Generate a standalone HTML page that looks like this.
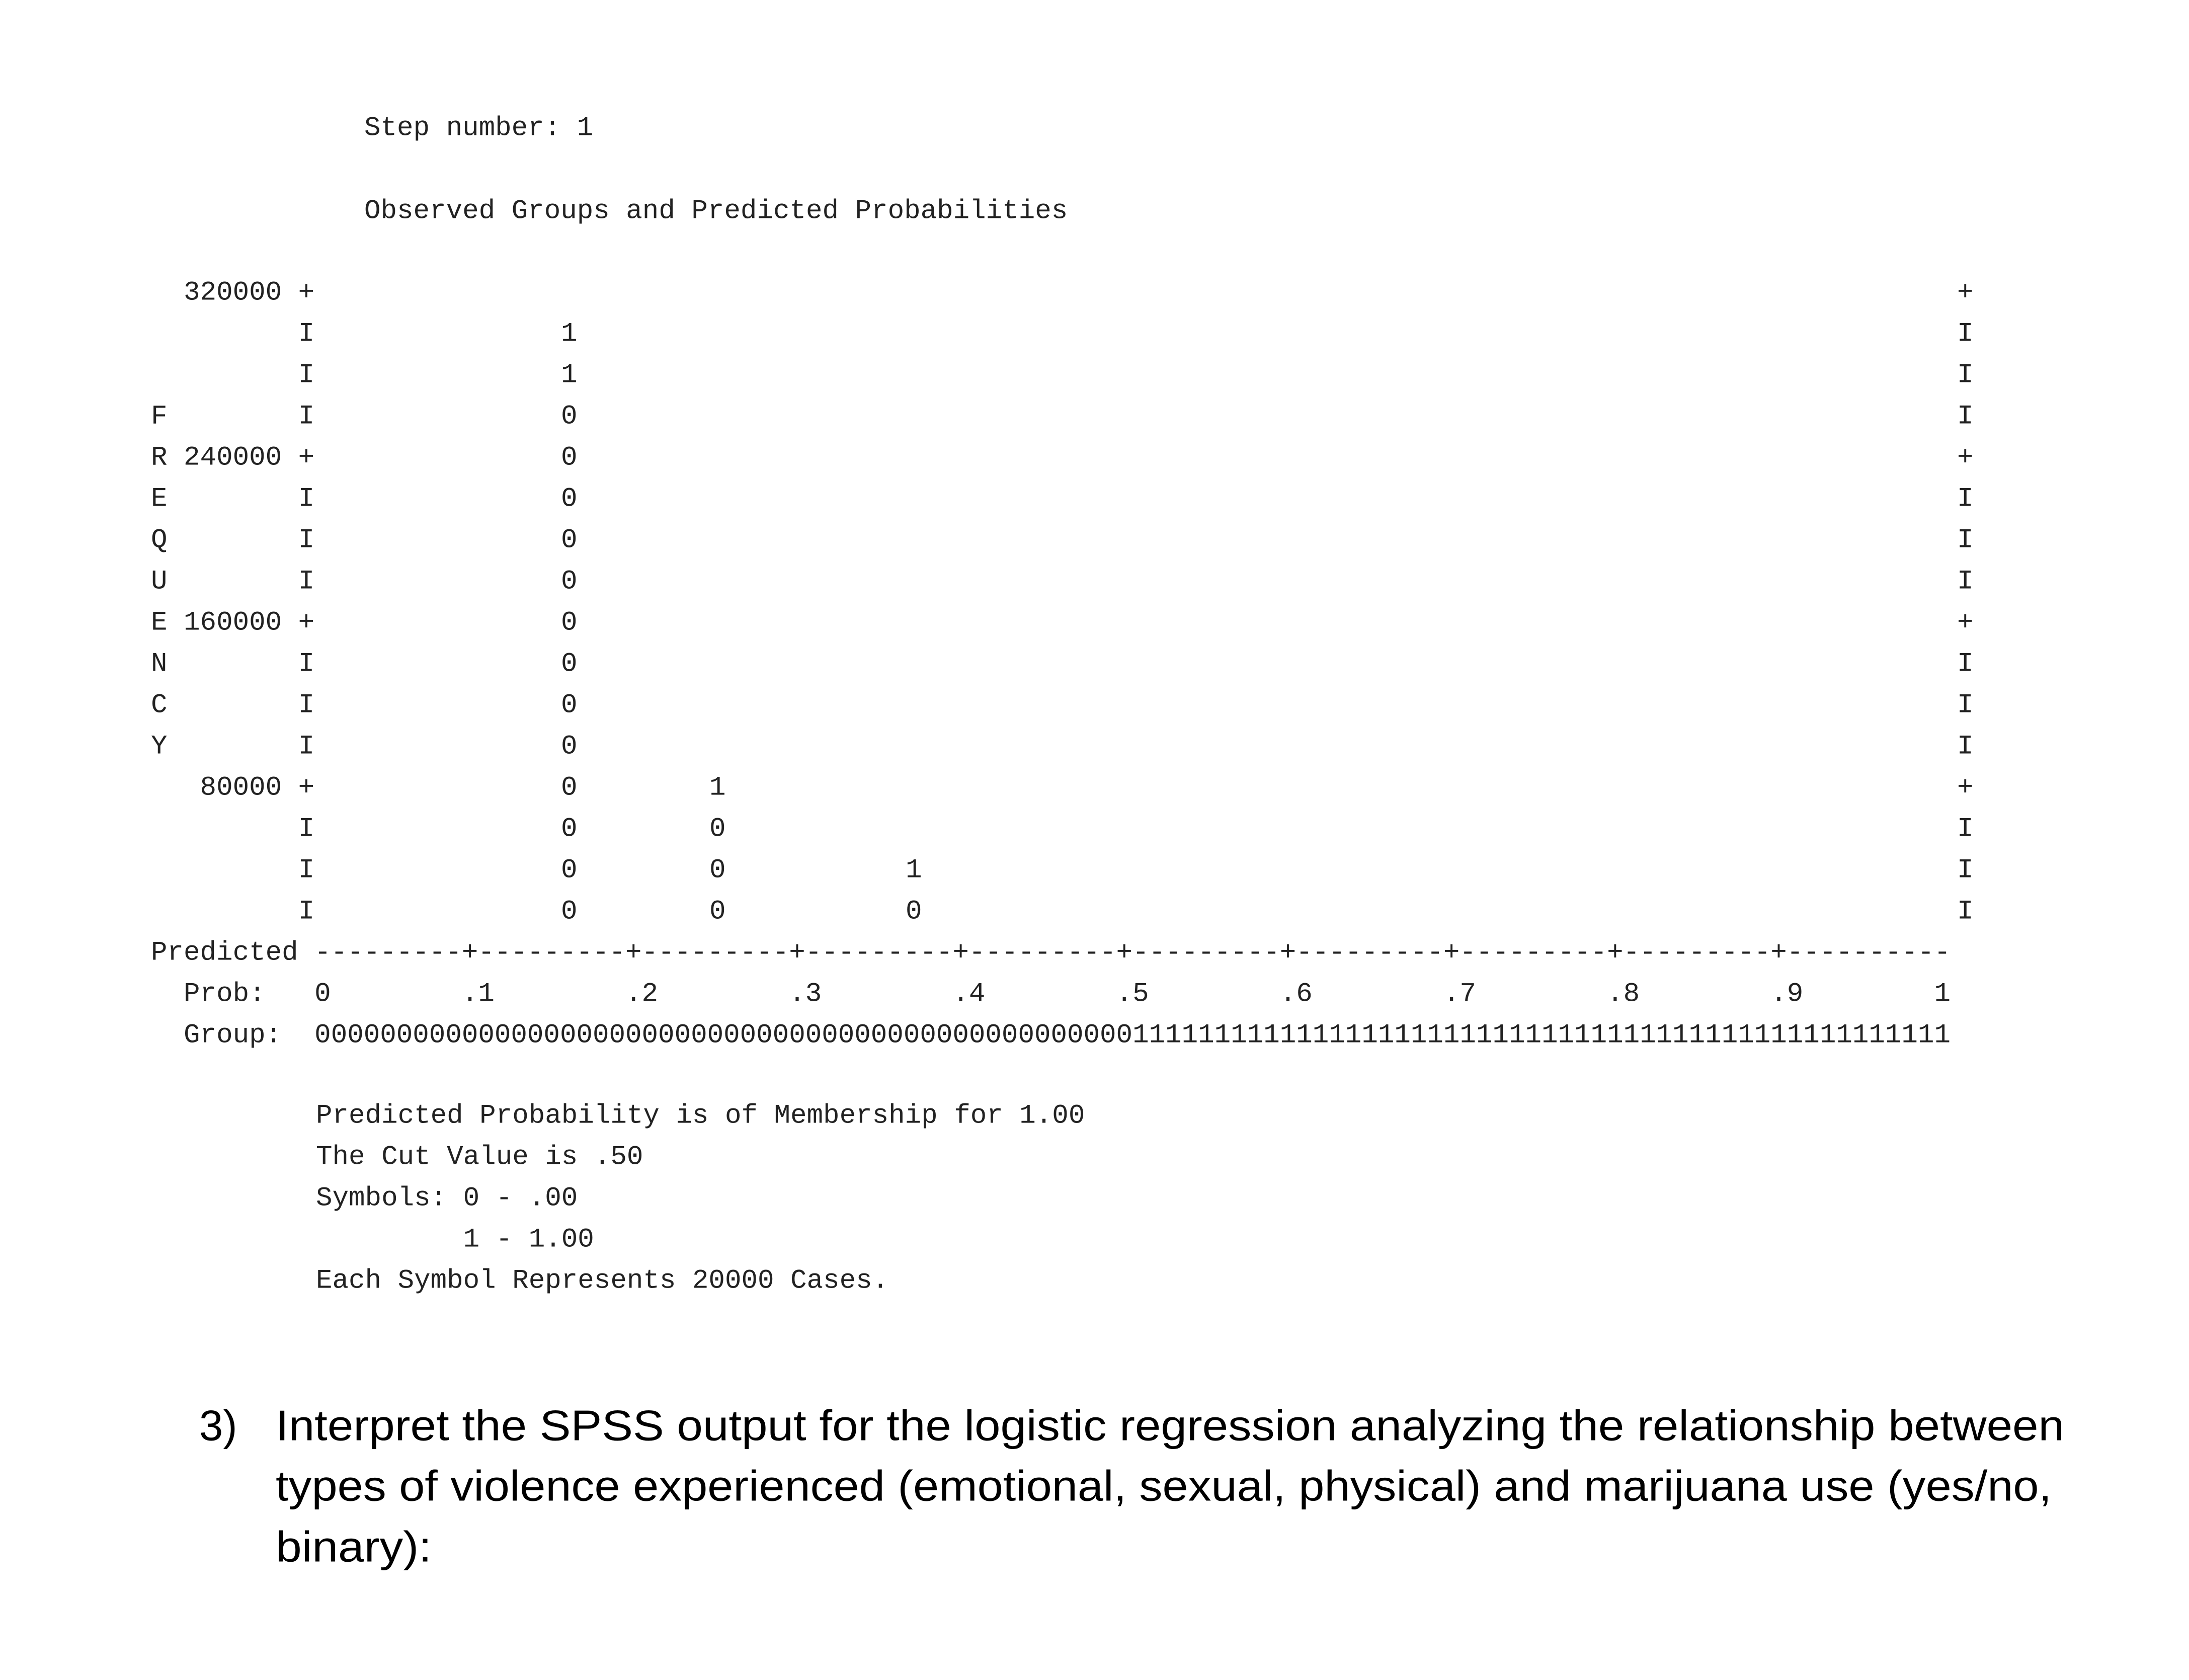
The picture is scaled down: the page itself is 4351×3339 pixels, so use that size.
<!DOCTYPE html>
<html><head><meta charset="utf-8"><style>
html,body{margin:0;padding:0;background:#fff;}
svg{display:block;}
.m text{font-family:"Liberation Mono",monospace;font-size:54.2px;fill:#222;white-space:pre;}
.q text{font-family:"Liberation Sans",sans-serif;font-size:85px;fill:#000;}
</style></head><body>
<svg width="4351" height="3339" viewBox="0 0 4351 3339" xmlns="http://www.w3.org/2000/svg">
<g class="m" dominant-baseline="central">
<text x="724" y="255">Step number: 1</text>
<text x="724" y="420">Observed Groups and Predicted Probabilities</text>

<text x="300" y="582" xml:space="preserve">  320000 +</text>
<text x="300" y="664" xml:space="preserve">         I</text>
<text x="300" y="746" xml:space="preserve">         I</text>
<text x="300" y="828" xml:space="preserve">F        I</text>
<text x="300" y="910" xml:space="preserve">R 240000 +</text>
<text x="300" y="992" xml:space="preserve">E        I</text>
<text x="300" y="1074" xml:space="preserve">Q        I</text>
<text x="300" y="1156" xml:space="preserve">U        I</text>
<text x="300" y="1238" xml:space="preserve">E 160000 +</text>
<text x="300" y="1320" xml:space="preserve">N        I</text>
<text x="300" y="1402" xml:space="preserve">C        I</text>
<text x="300" y="1484" xml:space="preserve">Y        I</text>
<text x="300" y="1566" xml:space="preserve">   80000 +</text>
<text x="300" y="1648" xml:space="preserve">         I</text>
<text x="300" y="1730" xml:space="preserve">         I</text>
<text x="300" y="1812" xml:space="preserve">         I</text>

<text x="3890" y="582">+</text>
<text x="3890" y="664">I</text>
<text x="3890" y="746">I</text>
<text x="3890" y="828">I</text>
<text x="3890" y="910">+</text>
<text x="3890" y="992">I</text>
<text x="3890" y="1074">I</text>
<text x="3890" y="1156">I</text>
<text x="3890" y="1238">+</text>
<text x="3890" y="1320">I</text>
<text x="3890" y="1402">I</text>
<text x="3890" y="1484">I</text>
<text x="3890" y="1566">+</text>
<text x="3890" y="1648">I</text>
<text x="3890" y="1730">I</text>
<text x="3890" y="1812">I</text>

<text x="1115" y="664">1</text>
<text x="1115" y="746">1</text>
<text x="1115" y="828">0</text>
<text x="1115" y="910">0</text>
<text x="1115" y="992">0</text>
<text x="1115" y="1074">0</text>
<text x="1115" y="1156">0</text>
<text x="1115" y="1238">0</text>
<text x="1115" y="1320">0</text>
<text x="1115" y="1402">0</text>
<text x="1115" y="1484">0</text>
<text x="1115" y="1566">0</text>
<text x="1115" y="1648">0</text>
<text x="1115" y="1730">0</text>
<text x="1115" y="1812">0</text>
<text x="1410" y="1566">1</text>
<text x="1410" y="1648">0</text>
<text x="1410" y="1730">0</text>
<text x="1410" y="1812">0</text>
<text x="1800" y="1730">1</text>
<text x="1800" y="1812">0</text>

<text x="300" y="1894" xml:space="preserve">Predicted ---------+---------+---------+---------+---------+---------+---------+---------+---------+----------</text>
<text x="300" y="1976" xml:space="preserve">  Prob:   0        .1        .2        .3        .4        .5        .6        .7        .8        .9        1</text>
<text x="300" y="2058" xml:space="preserve">  Group:  0000000000000000000000000000000000000000000000000011111111111111111111111111111111111111111111111111</text>

<text x="628" y="2218">Predicted Probability is of Membership for 1.00</text>
<text x="628" y="2300">The Cut Value is .50</text>
<text x="628" y="2382">Symbols: 0 - .00</text>
<text x="628" y="2464" xml:space="preserve">         1 - 1.00</text>
<text x="628" y="2546">Each Symbol Represents 20000 Cases.</text>
</g>
<g class="q" dominant-baseline="central">
<text x="396" y="2834">3)</text>
<text x="548" y="2834" textLength="3555" lengthAdjust="spacingAndGlyphs">Interpret the SPSS output for the logistic regression analyzing the relationship between</text>
<text x="548" y="2954" textLength="3530" lengthAdjust="spacingAndGlyphs">types of violence experienced (emotional, sexual, physical) and marijuana use (yes/no,</text>
<text x="548" y="3075" textLength="310" lengthAdjust="spacingAndGlyphs">binary):</text>
</g>
</svg>
</body></html>
